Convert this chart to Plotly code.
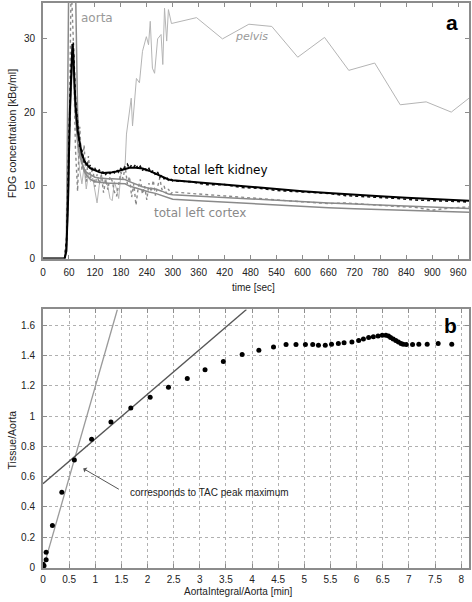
import plotly.graph_objects as go

# ---------------- panel a: time-activity curves ----------------
t_fit = [0, 50, 54, 58, 62, 66, 68, 70, 72, 75, 80, 85, 90, 95, 100, 110, 120, 130, 140, 150,
         160, 170, 180, 190, 200, 215, 230, 245, 260, 275, 290, 300, 360, 420, 480, 540, 600,
         660, 720, 780, 840, 900, 960, 1000]
kidney = [0, 0, 1, 8, 20, 28, 29.3, 28, 25, 21, 17.5, 15.5, 14.2, 13.4, 12.9, 12.3, 12.0, 11.8, 11.7, 11.7,
          11.8, 11.9, 12.1, 12.3, 12.4, 12.4, 12.3, 12.0, 11.6, 11.1, 10.8, 10.7, 10.4, 10.0, 9.7, 9.4, 9.2,
          8.95, 8.7, 8.5, 8.3, 8.15, 8.0, 7.85]
cortex = [0, 0, 1, 7, 18, 26, 27.5, 26, 23, 19.5, 16, 14, 13, 12.2, 11.8, 11.4, 11.1, 11.0, 10.9, 10.9,
          10.9, 10.9, 10.9, 10.8, 10.5, 10.1, 9.8, 9.6, 9.5, 9.2, 8.8, 8.7, 8.5, 8.3, 8.1, 7.9, 7.7,
          7.6, 7.45, 7.3, 7.15, 7.0, 6.9, 6.8]
aorta = [0, 0, 2, 25, 55, 80, 78, 62, 50, 38, 20, 15, 13.2, 12.0, 11.4, 10.8, 10.5, 10.4, 10.3, 10.3,
         10.3, 10.3, 10.3, 10.2, 9.9, 9.6, 9.3, 9.1, 8.9, 8.6, 8.2, 8.1, 7.9, 7.7, 7.5, 7.3, 7.1,
         6.95, 6.8, 6.7, 6.55, 6.45, 6.35, 6.3]

t_pelvis = [75, 80, 85, 90, 95, 100, 105, 110, 115, 120, 125, 130, 135, 140, 145, 150, 155, 160, 165,
            170, 175, 180, 185, 190, 193, 197, 204, 207, 216, 223, 230, 239, 244, 248, 253, 258, 265,
            273, 277, 281, 286, 290, 297, 355, 415, 476, 529, 589, 651, 707, 767, 826, 886, 944, 1000]
pelvis = [22, 15, 12, 10.2, 12.5, 9.5, 11.5, 10.5, 11, 9, 7.6, 10, 11.5, 10.2, 11, 9.8, 8.2, 7.9, 10.5,
          9.5, 8.2, 11.5, 12.2, 12.9, 17, 19, 21.9, 18.1, 24.6, 24.0, 28.3, 30.3, 29.2, 32.4, 26.0, 25.3, 30.0,
          30.6, 26.5, 34.2, 29.7, 34.0, 32.1, 32.9, 30.0, 32.0, 31.7, 27.5, 30.2, 25.7, 26.7, 21.0, 21.4, 20.0, 22.6]

t_raw = [50, 55, 60, 65, 70, 75, 80, 85, 90, 95, 100, 105, 110, 115, 120, 125, 130, 135, 140, 145,
         150, 155, 160, 165, 170, 175, 180, 185, 190, 195, 200, 205, 210, 215, 220, 225, 230, 235, 240,
         245, 250, 255, 260, 265, 270, 275, 280, 285, 290, 295, 300, 340, 380, 420, 460, 500, 540, 580,
         620, 660, 700, 740, 780, 820, 860, 900, 940, 980, 1000]
kidney_raw = [0, 3, 16, 26, 29.5, 22, 18.5, 15, 14.8, 13.2, 13.4, 12.4, 12.8, 12.0, 12.3, 11.8, 12.1, 11.6, 11.9, 11.5,
              11.9, 11.6, 12.0, 11.7, 12.1, 11.8, 12.3, 12.0, 12.6, 12.9, 12.3, 12.8, 12.5, 12.9, 12.2, 12.6, 12.0, 12.5, 11.9,
              12.3, 11.7, 12.1, 11.4, 11.8, 11.1, 11.4, 10.9, 11.2, 10.7, 10.9, 10.6, 10.5, 10.1, 10.1, 9.7, 9.6, 9.3, 9.2,
              9.0, 8.9, 8.6, 8.5, 8.3, 8.2, 8.0, 7.9, 7.8, 7.7, 7.7]
cortex_raw = [0, 2, 12, 38, 30, 15, 9.2, 18, 12, 15.5, 10.5, 14, 11, 12.5, 9.8, 11.5, 10.2, 11.4, 9.0, 10.8,
              9.4, 11.2, 10.6, 9.1, 8.5, 10.5, 11.8, 10.9, 12.6, 10.2, 11.2, 8.4, 10.2, 7.3, 9.6, 10.8, 8.8, 9.9, 8.0,
              10.3, 9.1, 10.7, 8.6, 9.8, 11.0, 9.4, 9.9, 8.9, 9.5, 8.8, 9.1, 8.9, 8.7, 8.6, 8.4, 8.2, 8.0, 7.8,
              7.7, 7.5, 7.6, 7.4, 7.3, 7.1, 7.0, 6.6, 6.9, 7.1, 7.1]

time_ticks = list(range(0, 961, 60))

# ---------------- panel b: Patlak-type plot ----------------
integral_ratio = [0.0, 0.02, 0.06, 0.06, 0.18, 0.36, 0.60, 0.93, 1.30, 1.68, 2.05, 2.40, 2.76, 3.10, 3.45,
                  3.81, 4.13, 4.41, 4.65, 4.84, 5.02, 5.16, 5.27, 5.40, 5.52, 5.65, 5.76, 5.91, 6.04, 6.13,
                  6.23, 6.32, 6.41, 6.49, 6.56, 6.61, 6.65, 6.70, 6.75, 6.80, 6.85, 6.89, 6.95, 7.07, 7.19,
                  7.35, 7.56, 7.82]
tissue_ratio = [0.02, 0.01, 0.05, 0.10, 0.276, 0.496, 0.71, 0.846, 0.961, 1.054, 1.124, 1.19, 1.248, 1.307, 1.36,
                1.407, 1.435, 1.457, 1.473, 1.473, 1.473, 1.473, 1.468, 1.468, 1.475, 1.48, 1.485, 1.49, 1.50, 1.51,
                1.52, 1.525, 1.53, 1.535, 1.535, 1.53, 1.52, 1.51, 1.50, 1.49, 1.48, 1.475, 1.473, 1.473, 1.475,
                1.475, 1.48, 1.475]
late_slope, late_intercept = 0.296, 0.553
early_slope, early_intercept = 1.207, -0.012

X_RANGE_A = [0, 985]
Y_RANGE_A = [0, 34.9]
X_RANGE_B = [0, 8.15]
Y_RANGE_B = [-0.005, 1.705]

fig = go.Figure()

# panel a traces
fig.add_trace(go.Scatter(x=t_pelvis, y=pelvis, mode="lines", line=dict(color="#b4b4b4", width=1),
                         xaxis="x", yaxis="y", showlegend=False))
fig.add_trace(go.Scatter(x=t_raw, y=cortex_raw, mode="lines", line=dict(color="#8a8a8a", width=1.4, dash="dot"),
                         xaxis="x", yaxis="y", showlegend=False))
fig.add_trace(go.Scatter(x=t_fit, y=aorta, mode="lines", line=dict(color="#8a8a8a", width=1.5),
                         xaxis="x", yaxis="y", showlegend=False))
fig.add_trace(go.Scatter(x=t_fit, y=cortex, mode="lines", line=dict(color="#8a8a8a", width=1.5),
                         xaxis="x", yaxis="y", showlegend=False))
fig.add_trace(go.Scatter(x=t_raw, y=kidney_raw, mode="lines", line=dict(color="#111111", width=1.6, dash="dot"),
                         xaxis="x", yaxis="y", showlegend=False))
fig.add_trace(go.Scatter(x=t_fit, y=kidney, mode="lines", line=dict(color="#000000", width=2),
                         xaxis="x", yaxis="y", showlegend=False))

# panel b traces
late_x = [X_RANGE_B[0], (Y_RANGE_B[1] - late_intercept) / late_slope]
late_y = [late_intercept + late_slope * v for v in late_x]
early_x = [0.02, (Y_RANGE_B[1] - early_intercept) / early_slope]
early_y = [early_intercept + early_slope * v for v in early_x]
fig.add_trace(go.Scatter(x=early_x, y=early_y, mode="lines", line=dict(color="#9a9a9a", width=1.3),
                         xaxis="x2", yaxis="y2", showlegend=False))
fig.add_trace(go.Scatter(x=late_x, y=late_y, mode="lines", line=dict(color="#555555", width=1.3),
                         xaxis="x2", yaxis="y2", showlegend=False))
fig.add_trace(go.Scatter(x=integral_ratio, y=tissue_ratio, mode="markers",
                         marker=dict(color="#000000", size=5),
                         xaxis="x2", yaxis="y2", showlegend=False))

tick_font = dict(family="Liberation Sans, Arial, sans-serif", size=10, color="#222222")
axis_common = dict(showline=True, linecolor="#8c8c8c", linewidth=2, mirror="ticks", ticks="inside",
                   ticklen=4, tickcolor="#8c8c8c", zeroline=False, tickfont=tick_font)

fig.update_layout(
    width=472, height=602,
    margin=dict(l=43, r=1, t=2, b=34),
    paper_bgcolor="white", plot_bgcolor="white",
    xaxis=dict(domain=[0, 1], anchor="y", range=X_RANGE_A, tickvals=time_ticks, showgrid=False,
               ticklabelstandoff=3, **axis_common),
    yaxis=dict(domain=[0.5477, 1], anchor="x", range=Y_RANGE_A, tickvals=[0, 10, 20, 30], showgrid=False,
               ticklabelstandoff=4, **axis_common),
    xaxis2=dict(domain=[0, 1], anchor="y2", range=X_RANGE_B, dtick=0.5, tick0=0, showgrid=True,
                gridcolor="#b0b0b0", griddash="dot", gridwidth=1, ticklabelstandoff=1, **axis_common),
    yaxis2=dict(domain=[0, 0.4576], anchor="x2", range=Y_RANGE_B, dtick=0.2, tick0=0, showgrid=True,
                gridcolor="#b0b0b0", griddash="dot", gridwidth=1, ticklabelstandoff=4, **axis_common),
)

dv = "DejaVu Sans, sans-serif"
ar = "Liberation Sans, Arial, sans-serif"
ann = [
    dict(x=124, y=32.9, xref="x", yref="y", text="aorta", showarrow=False,
         font=dict(family=dv, size=12, color="#999999")),
    dict(x=481, y=30.3, xref="x", yref="y", text="<i>pelvis</i>", showarrow=False,
         font=dict(family=dv, size=11, color="#999999")),
    dict(x=410, y=12.1, xref="x", yref="y", text="total left kidney", showarrow=False,
         font=dict(family=dv, size=12, color="#000000")),
    dict(x=364, y=6.2, xref="x", yref="y", text="total left cortex", showarrow=False,
         font=dict(family=dv, size=12, color="#8a8a8a")),
    dict(x=945, y=32.3, xref="x", yref="y", text="<b>a</b>", showarrow=False,
         font=dict(family=ar, size=21, color="#000000")),
    dict(x=7.8, y=1.6, xref="x2", yref="y2", text="<b>b</b>", showarrow=False,
         font=dict(family=ar, size=21, color="#000000")),
    dict(x=0.77, y=0.653, xref="x2", yref="y2", ax=1.48, ay=0.51, axref="x2", ayref="y2",
         text="", showarrow=True, arrowhead=1, arrowsize=1, arrowwidth=1, arrowcolor="#555555"),
    dict(x=1.62, y=0.497, xref="x2", yref="y2", text="corresponds to TAC peak maximum", showarrow=False,
         xanchor="left", font=dict(family=ar, size=10, color="#222222")),
    dict(x=-0.0724, y=0.7686, xref="paper", yref="paper", text="FDG concentration [kBq/ml]", textangle=-90,
         showarrow=False, font=dict(family=ar, size=10.5, color="#222222")),
    dict(x=-0.0724, y=0.2261, xref="paper", yref="paper", text="Tissue/Aorta", textangle=-90,
         showarrow=False, font=dict(family=ar, size=10.5, color="#222222")),
    dict(x=0.493, y=0.4965, xref="paper", yref="paper", text="time [sec]",
         showarrow=False, font=dict(family=ar, size=10, color="#222222")),
    dict(x=0.460, y=-0.0424, xref="paper", yref="paper", text="AortaIntegral/Aorta [min]",
         showarrow=False, font=dict(family=ar, size=10, color="#222222")),
]
for a in ann:
    a["yanchor"] = "middle"
    if "xanchor" not in a:
        a["xanchor"] = "center"
fig.update_layout(annotations=ann)

fig.write_html(
    "out.html",
    config={"displayModeBar": False},
    post_script="document.body.style.margin='0';document.body.style.overflow='hidden';",
)
